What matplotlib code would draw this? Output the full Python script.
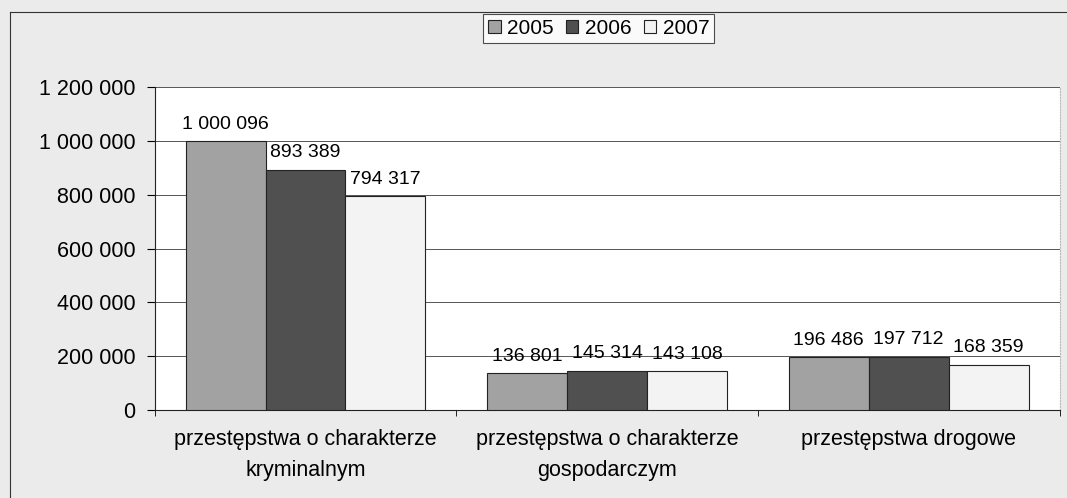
import matplotlib.pyplot as plt
import numpy as np

plt.rcParams['font.family'] = ['Liberation Sans', 'DejaVu Sans']

categories = ['przestępstwa o charakterze\nkryminalnym',
              'przestępstwa o charakterze\ngospodarczym',
              'przestępstwa drogowe']
years = ['2005', '2006', '2007']
v2005 = [1000096, 136801, 196486]
v2006 = [893389, 145314, 197712]
v2007 = [794317, 143108, 168359]
colors = ['#a2a2a2', '#505050', '#f3f3f3']


def fmt(v):
    return '{:,}'.format(v).replace(',', ' ')


fig = plt.figure(figsize=(10.67, 4.98), dpi=100)
fig.patch.set_facecolor('#ebebeb')
ax = fig.add_axes([0.145, 0.177, 0.848, 0.648])
ax.set_facecolor('white')

x = np.arange(len(categories))
w = 0.265
for i, (vals, yr) in enumerate(zip([v2005, v2006, v2007], years)):
    pos = x + (i - 1) * w
    ax.bar(pos, vals, w, color=colors[i], edgecolor='#222222', linewidth=0.8,
           label=yr, zorder=3)
    for p, v in zip(pos, vals):
        ax.annotate(fmt(v), (p, v), xytext=(0, 6), textcoords='offset points',
                    ha='center', va='bottom', fontsize=14, zorder=4)

ax.set_xlim(-0.5, 2.5)
ax.set_ylim(0, 1200000)
ax.set_yticks(range(0, 1200001, 200000))
ax.set_yticklabels([fmt(t) for t in range(0, 1200001, 200000)], fontsize=15.5)
ax.set_xticks([-0.5, 0.5, 1.5, 2.5], minor=True)
ax.set_xticks(x)
ax.set_xticklabels(categories, fontsize=15.5, linespacing=1.6)
ax.tick_params(axis='x', which='major', length=0, pad=14)
ax.tick_params(axis='x', which='minor', length=4)
ax.tick_params(axis='y', length=6, pad=8)
ax.grid(axis='y', color='#555555', linewidth=0.7, zorder=0)
ax.spines['top'].set_visible(False)
ax.spines['right'].set_color('#bbbbbb')
ax.spines['right'].set_linestyle(':')
ax.spines['left'].set_color('#222222')
ax.spines['bottom'].set_color('#222222')

leg = fig.legend(loc='upper center', bbox_to_anchor=(0.561, 0.972), ncol=3,
                 fontsize=15, frameon=True, fancybox=False, edgecolor='#222222',
                 handlelength=0.6, handleheight=0.6, handletextpad=0.3,
                 columnspacing=0.6, borderpad=0.25, borderaxespad=0)
leg.get_frame().set_linewidth(0.8)

fig.add_artist(plt.Line2D([0.009, 0.009], [0.0, 0.976], transform=fig.transFigure,
                          color='#333333', linewidth=0.8))
fig.add_artist(plt.Line2D([0.009, 1.0], [0.976, 0.976], transform=fig.transFigure,
                          color='#333333', linewidth=0.8))

fig.savefig('out.png', dpi=100, facecolor=fig.get_facecolor())
